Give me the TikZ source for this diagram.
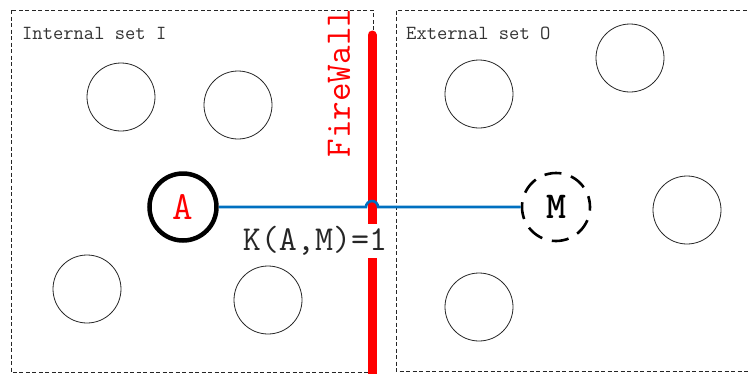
\documentclass[tikz,border=0pt]{standalone}
\usepackage{tikz}
\usepackage{xcolor}
\usetikzlibrary{positioning}
\usetikzlibrary{calc}
\definecolor{linkblue}{RGB}{0,112,192}

\begin{document}
\begin{tikzpicture}[
    x=1pt, y=-1pt,
    %% ── Node styles ─────────────────────────────────────────────
    zone/.style  ={draw=black!85, line width=0.6pt, dash pattern=on 4pt off 2.5pt},
    zlbl/.style  ={anchor=west, inner sep=0pt, text=black!80,
                                 font=\ttfamily\fontsize{20}{20}\selectfont},
    dot/.style   ={draw=black!85, circle, line width=0.8pt, minimum size=68pt, inner sep=0pt},
    host/.style  ={draw=black, circle, line width=4.5pt, minimum size=67pt, inner sep=0pt,
                                 text=red, font=\ttfamily\fontsize{40}{40}\selectfont},
    spy/.style   ={draw=black, circle, line width=2.6pt, minimum size=68pt, inner sep=0pt,
                                 dash pattern=on 17pt off 10pt, dash phase=6pt,
                                 font=\ttfamily\bfseries\fontsize{38}{38}\selectfont},
    wall/.style  ={draw=red, line width=9pt},
    walltxt/.style={text=red, rotate=90, inner sep=0pt,
                                 font=\ttfamily\fontsize{36}{36}\selectfont},
    klbl/.style  ={fill=white, inner sep=2pt, text=black!85,
                                 font=\ttfamily\fontsize{35}{35}\selectfont},
    link/.style  ={draw=linkblue, line width=2.6pt}
]
    \useasboundingbox (0,0) rectangle (748,373);

    %% ── Zones ──────────────────────────────────────────────────
    \draw[zone] (11,10) rectangle (373,372);
    \draw[zone] (753,10) -- (396,10) -- (396,371) -- (753,371);
    \node[zlbl] (inlbl)  at (22,33) {Internal set I};
    \node[zlbl] (exlbl)  at (406,33) {External set O};

    %% ── Firewall ───────────────────────────────────────────────
    \coordinate (fwtop) at (372,35);
    \coordinate (fwbot) at (372,380);
    \draw[wall, line cap=round] (fwtop) -- (372,200);
    \draw[wall] (372,200) -- (fwbot);
    \node[walltxt] (fwtxt) at (339,83) {FireWall};

    %% ── Hosts ──────────────────────────────────────────────────
    \node[dot] (i1) at (121,97)  {};
    \node[dot] (i2) at (238,105) {};
    \node[dot] (i3) at (87,289)  {};
    \node[dot] (i4) at (268,300) {};
    \node[dot] (o1) at (479,94)  {};
    \node[dot] (o2) at (630,58)  {};
    \node[dot] (o3) at (687,210) {};
    \node[dot] (o4) at (479,307) {};

    \node[host] (A) at (183,207) {A};
    \node[spy]  (M) at (556,207) {M};

    %% ── Link ───────────────────────────────────────────────────
    \node[klbl] (k) at (315,241) {K(A,M)=1};
    \coordinate (hopL) at ($(A.east-|fwtop)+(-6,0)$);
    \draw[link] (A.east) -- (hopL) arc[start angle=180, end angle=360, radius=6] -- (M.west);

\end{tikzpicture}
\end{document}
